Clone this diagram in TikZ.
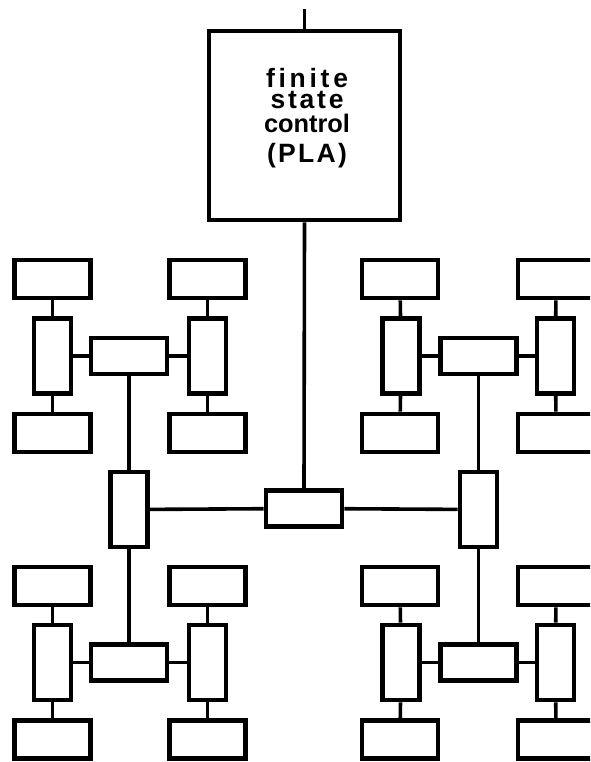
\documentclass[tikz,border=0pt]{standalone}
\usepackage{fontspec}
\setmainfont{Liberation Sans}[BoldFont={Liberation Sans Bold}]
\begin{document}
\begin{tikzpicture}[x=1pt,y=-1pt,
  box/.style={draw,line width=4.6pt,inner sep=0pt,fill=white},
  small/.style={box,minimum width=76pt,minimum height=38pt},
  vbox/.style={box,minimum width=37pt,minimum height=75pt},
  hbox/.style={box,minimum width=76pt,minimum height=36pt},
  wire/.style={line width=3.6pt},
  lbl/.style={font=\fontsize{26.5}{21}\selectfont\bfseries,inner sep=0pt,align=center}]
\clip (0,0) rectangle (590,762);
\fill[white] (0,0) rectangle (590,762);
% finite state control
\node[box,minimum width=191pt,minimum height=189pt] (fsc) at (304.5,125.5) {};
\coordinate (top) at (304.5,9);
\node[lbl,anchor=north] (txt) at (307,68) {\makebox[82pt][s]{f\hfill i\hfill n\hfill i\hfill t\hfill e}\\
  \makebox[73pt][s]{s\hfill t\hfill a\hfill t\hfill e}\\[3pt]
  \resizebox{86pt}{!}{control}\\[9pt]
  \makebox[80pt][s]{(\hfill P\hfill L\hfill A\hfill )}};
% central tree
\node[hbox] (c) at (304,508.5) {};
\node[vbox] (L) at (129,509.5) {};
\node[vbox] (R) at (478.5,509.5) {};
% clusters: top-left
\node[hbox] (a) at (129,356) {};
\node[vbox] (a1) at (52.5,356) {};
\node[vbox] (a2) at (207.5,356) {};
\node[small] (a1t) at (52.5,279) {};
\node[small] (a1b) at (52.5,433) {};
\node[small] (a2t) at (207.5,279) {};
\node[small] (a2b) at (207.5,433) {};
% bottom-left
\node[hbox] (b) at (129,662.5) {};
\node[vbox] (b1) at (52.5,662.5) {};
\node[vbox] (b2) at (207.5,662.5) {};
\node[small] (b1t) at (52.5,586) {};
\node[small] (b1b) at (52.5,739.5) {};
\node[small] (b2t) at (207.5,586) {};
\node[small] (b2b) at (207.5,739.5) {};
% top-right
\node[hbox] (d) at (478.5,356) {};
\node[vbox] (d1) at (401,356) {};
\node[vbox] (d2) at (555.5,356) {};
\node[small] (d1t) at (400,279) {};
\node[small] (d1b) at (400,433) {};
\node[small] (d2t) at (556,279) {};
\node[small] (d2b) at (556,433) {};
% bottom-right
\node[hbox] (e) at (478.5,662.5) {};
\node[vbox] (e1) at (401,662.5) {};
\node[vbox] (e2) at (555.5,662.5) {};
\node[small] (e1t) at (400,586) {};
\node[small] (e1b) at (400,739.5) {};
\node[small] (e2t) at (556,586) {};
\node[small] (e2b) at (556,739.5) {};
% wires
\draw[wire] (top) -- (fsc.north);
\draw[wire] (fsc.south) -- (c.north);
\draw[wire] (L) -- (c) -- (R);
\draw[wire] (a.south) -- (L.north);
\draw[wire] (b.north) -- (L.south);
\draw[wire] (d.south) -- (R.north);
\draw[wire] (e.north) -- (R.south);
\foreach \m in {a,b,d,e}{
  \draw[wire] (\m1) -- (\m) -- (\m2);
  \draw[wire] (\m1t) -- (\m1) -- (\m1b);
  \draw[wire] (\m2t) -- (\m2) -- (\m2b);
}
\end{tikzpicture}
\end{document}
